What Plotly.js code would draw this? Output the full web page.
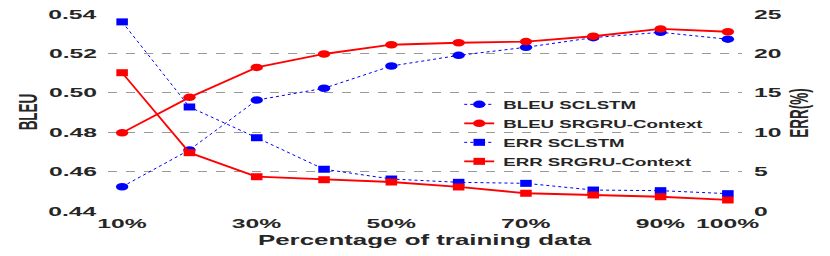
<!DOCTYPE html>
<html>
<head>
<meta charset="utf-8">
<script src="https://cdn.plot.ly/plotly-3.0.1.min.js"></script>
<style>html,body{margin:0;padding:0;background:#fff;}#chart{width:830px;height:256px;}</style>
</head>
<body>
<div id="chart"></div>
<script>
const percent = [10, 20, 30, 40, 50, 60, 70, 80, 90, 100];
const tickVals = [10, 30, 50, 70, 90, 100];
const tickText = ['10%', '30%', '50%', '70%', '90%', '100%'];
const bleuSCLSTM = [0.4523, 0.4710, 0.4963, 0.5023, 0.5136, 0.5190, 0.5231, 0.5280, 0.5307, 0.5272];
const bleuSRGRU = [0.4797, 0.4977, 0.5129, 0.5197, 0.5244, 0.5254, 0.5260, 0.5287, 0.5324, 0.5310];
const errSCLSTM = [24.0, 13.2, 9.3, 5.3, 4.06, 3.64, 3.51, 2.66, 2.58, 2.2];
const errSRGRU = [17.55, 7.4, 4.35, 3.97, 3.68, 3.05, 2.25, 2.03, 1.81, 1.4];

const BLUE = '#0000ff', RED = '#ff0000', TXT = '#262626';
const FONT = 'Liberation Sans, Arial, sans-serif';

const traces = [
  {x: percent, y: bleuSCLSTM, name: 'BLEU SCLSTM', mode: 'lines+markers',
   line: {color: BLUE, width: 1, dash: 'dot'}, marker: {color: BLUE, size: 7.5, symbol: 'circle'}},
  {x: percent, y: bleuSRGRU, name: 'BLEU SRGRU-Context', mode: 'lines+markers',
   line: {color: RED, width: 1.8}, marker: {color: RED, size: 7.5, symbol: 'circle'}},
  {x: percent, y: errSCLSTM, name: 'ERR SCLSTM', mode: 'lines+markers', yaxis: 'y2',
   line: {color: BLUE, width: 1, dash: 'dot'}, marker: {color: BLUE, size: 7, symbol: 'square'}},
  {x: percent, y: errSRGRU, name: 'ERR SRGRU-Context', mode: 'lines+markers', yaxis: 'y2',
   line: {color: RED, width: 1.8}, marker: {color: RED, size: 7, symbol: 'square'}}
];

const layout = {
  width: 830, height: 256,
  margin: {l: 108, r: 88, t: 14, b: 45},
  paper_bgcolor: '#fff', plot_bgcolor: '#fff',
  font: {family: FONT, color: TXT},
  showlegend: true,
  legend: {x: 0.554, xanchor: 'left', y: 0.615, yanchor: 'top', bgcolor: 'rgba(0,0,0,0)',
           font: {size: 11, family: FONT, color: TXT, weight: 'bold'}},
  xaxis: {range: [7.9, 102.1], tickvals: tickVals, ticktext: tickText, showgrid: false,
          zeroline: false, showline: false, ticks: '', ticklabelstandoff: 3,
          tickfont: {size: 13, family: FONT, color: TXT, weight: 'bold'},
          title: {text: 'Percentage of training data', standoff: 2,
                  font: {size: 14, family: FONT, color: TXT, weight: 'bold'}}},
  yaxis: {range: [0.44, 0.54], dtick: 0.02, tickformat: '.2f', showgrid: true,
          gridcolor: '#9a9a9a', griddash: 'dash', gridwidth: 1, zeroline: false,
          showline: false, ticks: '', ticklabelstandoff: 10,
          tickfont: {size: 13, family: FONT, color: TXT, weight: 'bold'},
          title: {text: 'BLEU', standoff: 10, font: {size: 13.5, family: FONT, color: TXT, weight: 'bold'}}},
  yaxis2: {range: [0, 25], dtick: 5, overlaying: 'y', side: 'right', showgrid: false,
           zeroline: false, showline: false, ticks: '', ticklabelstandoff: 11,
           tickfont: {size: 13, family: FONT, color: TXT, weight: 'bold'},
           title: {text: 'ERR(%)', standoff: 10, font: {size: 13.5, family: FONT, color: TXT, weight: 'bold'}}}
};

function stretchText(sel, s, rotated) {
  document.querySelectorAll(sel).forEach(t => {
    const b = t.getBBox();
    const anchor = t.getAttribute('text-anchor') || 'start';
    let tr = t.getAttribute('transform') || '';
    if (!rotated) {
      const ax = anchor === 'end' ? b.x + b.width : anchor === 'middle' ? b.x + b.width / 2 : b.x;
      tr += ` translate(${ax},0) scale(${s},1) translate(${-ax},0)`;
    } else {
      const ay = b.y + b.height / 2;
      tr += ` translate(0,${ay}) scale(1,${s}) translate(0,${-ay})`;
    }
    t.setAttribute('transform', tr);
  });
}
function moveCenter(sel, cx, cy) {
  const t = document.querySelector(sel);
  if (!t) return;
  const r = t.getBoundingClientRect();
  const dx = cx - (r.left + r.width / 2), dy = cy - (r.top + r.height / 2);
  t.setAttribute('transform', `translate(${dx},${dy}) ` + (t.getAttribute('transform') || ''));
}
function stretchMarkers(sel, s) {
  document.querySelectorAll(sel).forEach(p => {
    const tr = p.getAttribute('transform') || '';
    p.setAttribute('transform', tr + ` scale(${s},1)`);
  });
}

Plotly.newPlot('chart', traces, layout, {displayModeBar: false, staticPlot: true}).then(() => {
  document.querySelectorAll('.legendtext').forEach(t => {
    t.setAttribute('x', String(parseFloat(t.getAttribute('x') || '40') + 4));
  });
  stretchText('.xtick text', 1.9, false);
  stretchText('.ytick text', 1.9, false);
  stretchText('.y2tick text', 1.9, false);
  stretchText('.g-xtitle text', 1.85, false);
  stretchText('.g-ytitle text', 1.9, true);
  stretchText('.g-y2title text', 1.9, true);
  stretchText('.legendtext', 1.7, false);
  moveCenter('.g-xtitle text', 425, 240);
  moveCenter('.g-ytitle text', 28, 112);
  moveCenter('.g-y2title text', 799, 113);
  document.querySelectorAll('.legend [clip-path]').forEach(e => e.removeAttribute('clip-path'));
  stretchMarkers('.scatterlayer path.point', 1.65);
  stretchMarkers('.legendpoints path.scatterpts', 1.65);
});
</script>
</body>
</html>
